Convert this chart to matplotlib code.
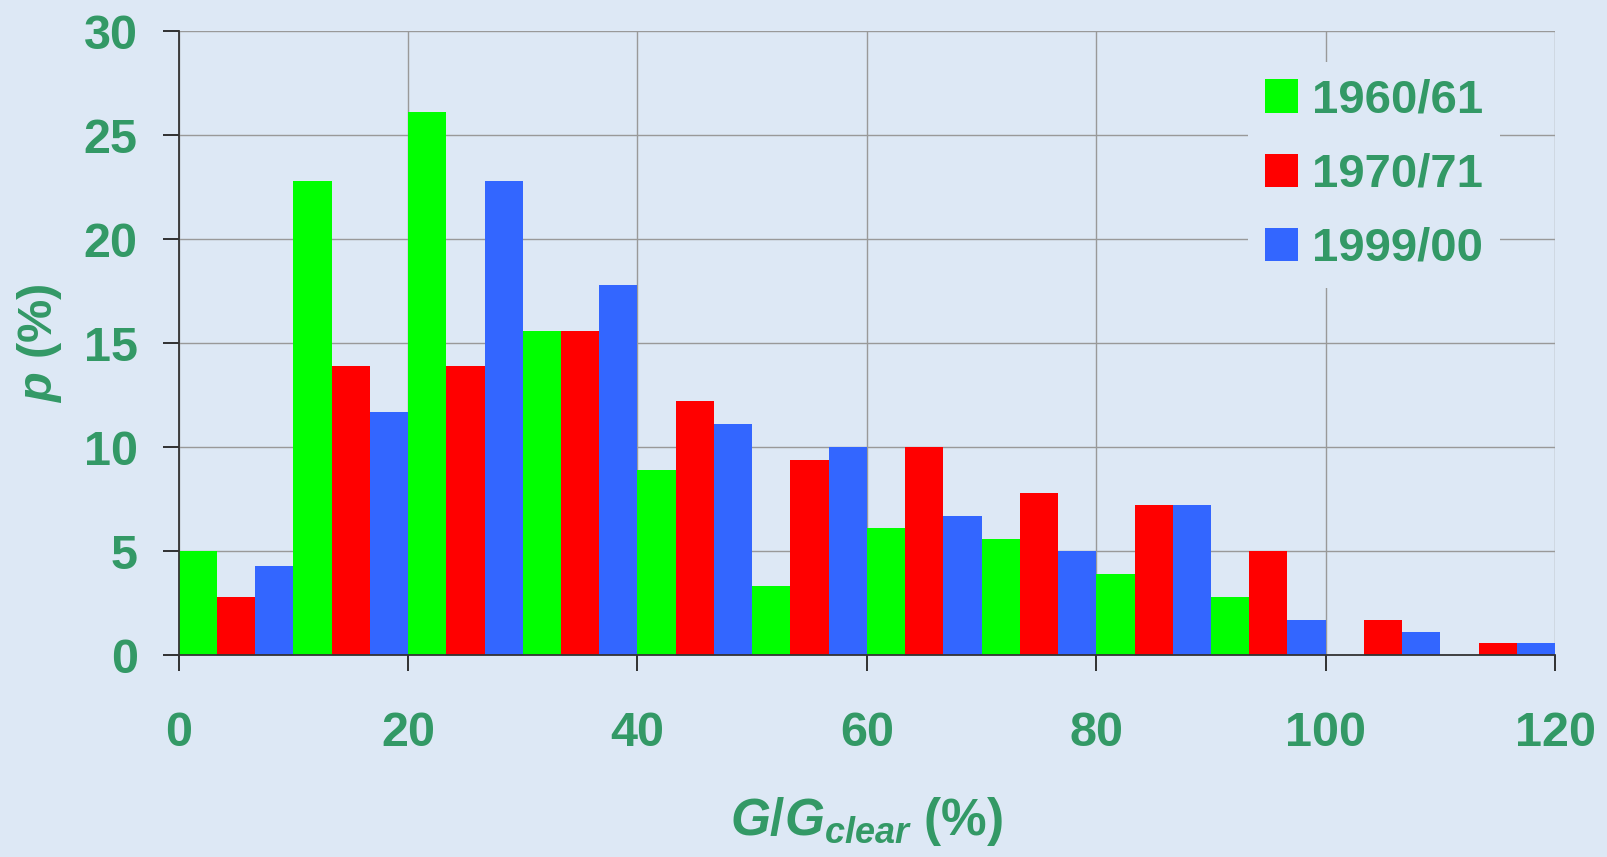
import matplotlib
matplotlib.use("Agg")
import matplotlib.pyplot as plt
from matplotlib.patches import Patch
import numpy as np

# Relative frequency of G/G_clear classes (10 % wide bins) for three periods
bin_starts = [0, 10, 20, 30, 40, 50, 60, 70, 80, 90, 100, 110]
p_1960 = [5.0, 22.8, 26.1, 15.6, 8.9, 3.3, 6.1, 5.6, 3.9, 2.8, 0.0, 0.0]
p_1970 = [2.8, 13.9, 13.9, 15.6, 12.2, 9.4, 10.0, 7.8, 7.2, 5.0, 1.7, 0.6]
p_1999 = [4.3, 11.7, 22.8, 17.8, 11.1, 10.0, 6.7, 5.0, 7.2, 1.7, 1.1, 0.6]
series_labels = ["1960/61", "1970/71", "1999/00"]
x_ticks = [0, 20, 40, 60, 80, 100, 120]
y_ticks = [0, 5, 10, 15, 20, 25, 30]

bar_colors = ["#00ff00", "#ff0000", "#3366ff"]
text_green = "#339966"
bg = "#dde8f5"

plt.rcParams["font.family"] = ["Liberation Sans", "DejaVu Sans"]
plt.rcParams["font.weight"] = "bold"
plt.rcParams["mathtext.fontset"] = "custom"
plt.rcParams["mathtext.it"] = "Liberation Sans:italic:bold"
plt.rcParams["mathtext.rm"] = "Liberation Sans:bold"
plt.rcParams["mathtext.bf"] = "Liberation Sans:bold"

fig = plt.figure(figsize=(16.07, 8.57), dpi=100, facecolor=bg)
ax = fig.add_axes([0.1112, 0.2357, 0.9677 - 0.1112, 0.9635 - 0.2357])
ax.set_facecolor(bg)

bin_width = 10
bar_w = bin_width / 3
starts = np.array(bin_starts, dtype=float)
for i, (vals, col) in enumerate(zip([p_1960, p_1970, p_1999], bar_colors)):
    ax.bar(starts + i * bar_w, vals, width=bar_w, align="edge",
           color=col, edgecolor="none", zorder=2)

ax.set_xlim(0, 120)
ax.set_ylim(0, 30)
ax.set_xticks(x_ticks)
ax.set_yticks(y_ticks)
ax.grid(True, color="#999999", linewidth=1.0, zorder=1)
ax.set_axisbelow(True)

for side in ["top", "right"]:
    ax.spines[side].set_visible(False)
for side in ["left", "bottom"]:
    ax.spines[side].set_color("#333333")
    ax.spines[side].set_linewidth(1.3)
    ax.spines[side].set_zorder(3)

ax.tick_params(axis="both", direction="out", length=11.5, width=1.3,
               color="#222222", labelcolor=text_green, labelsize=35)
ax.tick_params(axis="y", pad=18)
ax.tick_params(axis="x", pad=29)
for lab in ax.get_xticklabels() + ax.get_yticklabels():
    lab.set_fontweight("bold")

ax.set_ylabel(r"$\mathit{p}$ (%)", color=text_green, fontsize=35,
              fontweight="bold", labelpad=14)
ax.set_xlabel(r"$\mathit{G/G}_{\mathit{clear}}$ (%)", color=text_green,
              fontsize=37, fontweight="bold", labelpad=28)

handles = [Patch(facecolor=c, edgecolor="none") for c in bar_colors]
leg = ax.legend(handles, series_labels, loc="upper left",
                bbox_to_anchor=(1248 / 1607, 1 - 62 / 857),
                bbox_transform=fig.transFigure,
                fontsize=34, frameon=True, facecolor=bg, edgecolor="none",
                framealpha=1.0, fancybox=False, borderpad=0.35,
                handlelength=0.7, handleheight=0.7, handletextpad=0.3,
                labelspacing=0.64, borderaxespad=0)
for t in leg.get_texts():
    t.set_color(text_green)
    t.set_fontweight("bold")

fig.savefig("out.png", dpi=100, facecolor=bg)
